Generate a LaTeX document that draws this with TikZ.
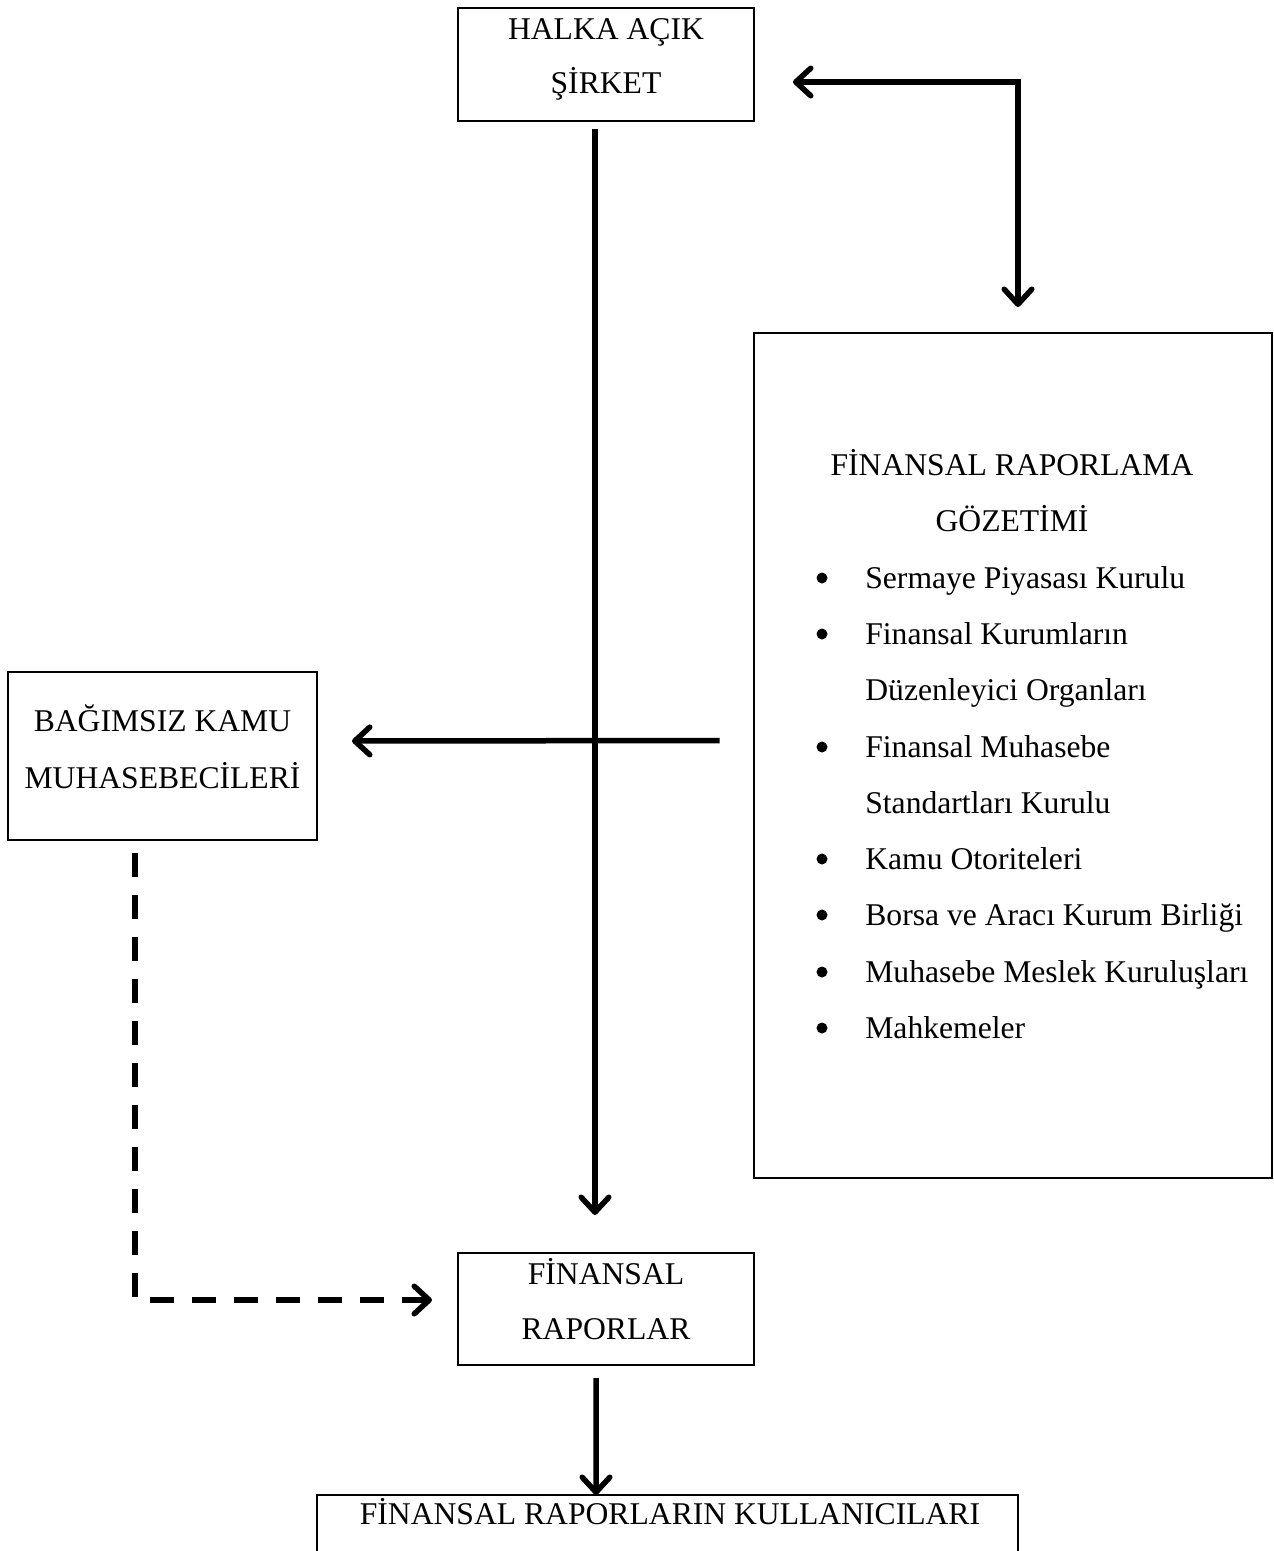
\documentclass[tikz,border=0pt]{standalone}
\usepackage{fontspec}
\setmainfont{Liberation Serif}
\usetikzlibrary{arrows.meta}

\begin{document}
\begin{tikzpicture}[>={Straight Barb[length=0.3cm,width=0.55cm,round]},
arr/.style={->,line width=0.11cm},
box node/.style={rectangle,draw,line width=0.04cm,inner sep=0pt,outer sep=0pt},
txt/.style={draw=none,anchor=base,inner sep=0pt,font=\fontsize{18}{22}\selectfont},
item/.style={txt,anchor=base west},
dot/.style={circle,fill,inner sep=0pt,minimum size=0.22cm}]
\useasboundingbox (0,0) rectangle (25.48,-31.02);
\clip (0,0) rectangle (25.48,-31.02);
\node[box node,minimum width=5.92cm,minimum height=2.26cm] (sirket) at (12.12,-1.28) {};
\node[box node,minimum width=10.36cm,minimum height=16.9cm] (gozetim) at (20.26,-15.11) {};
\node[box node,minimum width=6.18cm,minimum height=3.36cm] (denetci) at (3.25,-15.12) {};
\node[box node,minimum width=5.92cm,minimum height=2.24cm] (rapor) at (12.12,-26.18) {};
\node[box node,minimum width=14.02cm,minimum height=2.1cm] (kullanici) at (13.35,-30.95) {};
\node[txt] (s1) at (12.12,-0.78) {HALKA AÇIK};
\node[txt] (s2) at (12.12,-1.86) {ŞİRKET};
\node[txt] (g1) at (20.24,-9.50) {FİNANSAL RAPORLAMA};
\node[txt] (g2) at (20.24,-10.62) {GÖZETİMİ};
\node[dot] (b1) at (16.44,-11.56) {};
\node[item] (i1) at (17.30,-11.76) {Sermaye Piyasası Kurulu};
\node[dot] (b2) at (16.44,-12.68) {};
\node[item] (i2) at (17.30,-12.88) {Finansal Kurumların};
\node[item] (i3) at (17.30,-14.00) {Düzenleyici Organları};
\node[dot] (b3) at (16.44,-14.94) {};
\node[item] (i4) at (17.30,-15.14) {Finansal Muhasebe};
\node[item] (i5) at (17.30,-16.26) {Standartları Kurulu};
\node[dot] (b4) at (16.44,-17.18) {};
\node[item] (i6) at (17.30,-17.38) {Kamu Otoriteleri};
\node[dot] (b5) at (16.44,-18.30) {};
\node[item] (i7) at (17.30,-18.50) {Borsa ve Aracı Kurum Birliği};
\node[dot] (b6) at (16.44,-19.44) {};
\node[item] (i8) at (17.30,-19.64) {Muhasebe Meslek Kuruluşları};
\node[dot] (b7) at (16.44,-20.56) {};
\node[item] (i9) at (17.30,-20.76) {Mahkemeler};
\node[txt] (d1) at (3.25,-14.62) {BAĞIMSIZ KAMU};
\node[txt] (d2) at (3.25,-15.76) {MUHASEBECİLERİ};
\node[txt] (r1) at (12.12,-25.68) {FİNANSAL};
\node[txt] (r2) at (12.12,-26.78) {RAPORLAR};
\node[txt] (k1) at (13.40,-30.48) {FİNANSAL RAPORLARIN KULLANICILARI};
\draw[arr,shorten <=0.16cm,shorten >=0.76cm] ([xshift=-0.22cm]sirket.south) -- ([xshift=-0.22cm]rapor.north);
\draw[arr,<->,shorten <=0.78cm,shorten >=0.52cm] ([yshift=-0.36cm]sirket.east) -| ([xshift=0.1cm]gozetim.north);
\draw[arr,shorten <=0.69cm,shorten >=0.70cm] ([yshift=0.3cm]gozetim.west) -- ([yshift=0.3cm]denetci.east);
\draw[arr,dash pattern=on 0.48cm off 0.36cm,shorten <=0.26cm,shorten >=0.52cm] ([xshift=-0.55cm]denetci.south) |- ([yshift=0.18cm]rapor.west);
\draw[arr,shorten <=0.26cm] ([xshift=-0.2cm]rapor.south) -- ([xshift=-1.43cm]kullanici.north);
\end{tikzpicture}
\end{document}
